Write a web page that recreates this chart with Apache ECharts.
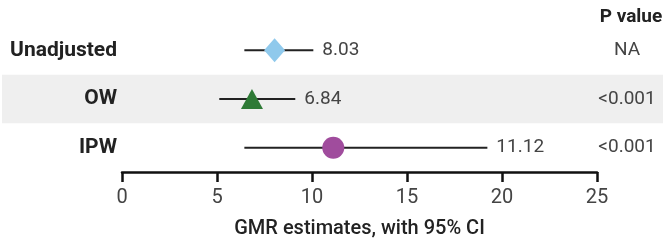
<!DOCTYPE html>
<html>
<head>
<meta charset="utf-8">
<script src="https://cdn.jsdelivr.net/npm/echarts@6/dist/echarts.min.js"></script>
<style>
  html, body { margin: 0; padding: 0; background: #fff; }
  #forest { width: 666px; height: 245px; }
</style>
</head>
<body>
<div id="forest"></div>
<script>
// rows of the forest plot
var rows = ['Unadjusted', 'OW', 'IPW'];
var estimates = [8.03, 6.84, 11.12];
var lowerCI = [6.44, 5.12, 6.44];
var upperCI = [10.07, 9.12, 19.23];
var pValues = ['NA', '<0.001', '<0.001'];
var shadedRows = [0, 1, 0];   // OW row gets the gray band

var markerSymbols = ['diamond', 'triangle', 'circle'];
var markerSizes = [[21, 24], [22, 20], 22];
var markerColors = ['#8fc9ec', '#2e7a36', '#a04c9d'];

var FONT = 'Roboto';

var chart = echarts.init(document.getElementById('forest'));

var ciData = rows.map(function (r, i) {
    return [lowerCI[i], upperCI[i], i, estimates[i]];
});

var option = {
    animation: false,
    textStyle: { fontFamily: FONT },
    title: {
        text: 'P value',
        left: 626,
        top: 3,
        textAlign: 'center',
        textStyle: { fontFamily: FONT, fontSize: 19, fontWeight: 'bold', color: '#222' }
    },
    grid: [
        { left: 122, right: 69, top: 26, height: 146 },
        { left: 2, right: 3, top: 26, height: 146 }
    ],
    xAxis: [
        {
            type: 'value',
            gridIndex: 0,
            min: 0,
            max: 25,
            interval: 5,
            splitLine: { show: false },
            axisLine: { show: true, lineStyle: { color: '#111', width: 2.5 } },
            axisTick: { show: true, length: 10, lineStyle: { color: '#111', width: 2.5 } },
            axisLabel: { fontSize: 20, color: '#444', margin: 16 },
            name: 'GMR estimates, with 95% CI',
            nameLocation: 'middle',
            nameGap: 47,
            nameTextStyle: { fontSize: 20, fontWeight: 500, color: '#222' }
        },
        { type: 'value', gridIndex: 1, min: 0, max: 1, show: false }
    ],
    yAxis: [
        {
            type: 'category',
            gridIndex: 0,
            data: rows,
            inverse: true,
            axisLine: { show: false },
            axisTick: { show: false },
            axisLabel: { fontSize: 21, fontWeight: 'bold', color: '#222', margin: 5 }
        },
        {
            type: 'category',
            gridIndex: 0,
            position: 'right',
            data: pValues,
            inverse: true,
            axisLine: { show: false },
            axisTick: { show: false },
            axisLabel: { fontSize: 19, color: '#444', margin: 30, align: 'center' }
        },
        { type: 'category', gridIndex: 1, data: rows, inverse: true, show: false }
    ],
    series: [
        {
            type: 'bar',
            xAxisIndex: 1,
            yAxisIndex: 2,
            data: shadedRows,
            barWidth: '100%',
            itemStyle: { color: '#efefef' },
            silent: true,
            z: 0
        },
        {
            type: 'custom',
            xAxisIndex: 0,
            yAxisIndex: 0,
            data: ciData,
            renderItem: function (params, api) {
                var a = api.coord([api.value(0), api.value(2)]);
                var b = api.coord([api.value(1), api.value(2)]);
                return {
                    type: 'group',
                    children: [
                        {
                            type: 'line',
                            shape: { x1: a[0], y1: a[1], x2: b[0], y2: b[1] },
                            style: { stroke: '#222', lineWidth: 2 }
                        },
                        {
                            type: 'text',
                            style: {
                                x: b[0] + 9,
                                y: b[1],
                                text: api.value(3).toFixed(2),
                                fontFamily: FONT,
                                fontSize: 19,
                                fill: '#444',
                                verticalAlign: 'middle',
                                align: 'left'
                            }
                        }
                    ]
                };
            },
            z: 2
        }
    ]
};

rows.forEach(function (r, i) {
    option.series.push({
        type: 'scatter',
        xAxisIndex: 0,
        yAxisIndex: 0,
        symbol: markerSymbols[i],
        symbolSize: markerSizes[i],
        itemStyle: { color: markerColors[i], opacity: 1 },
        data: [[estimates[i], i]],
        z: 3
    });
});

chart.setOption(option);
</script>
</body>
</html>
